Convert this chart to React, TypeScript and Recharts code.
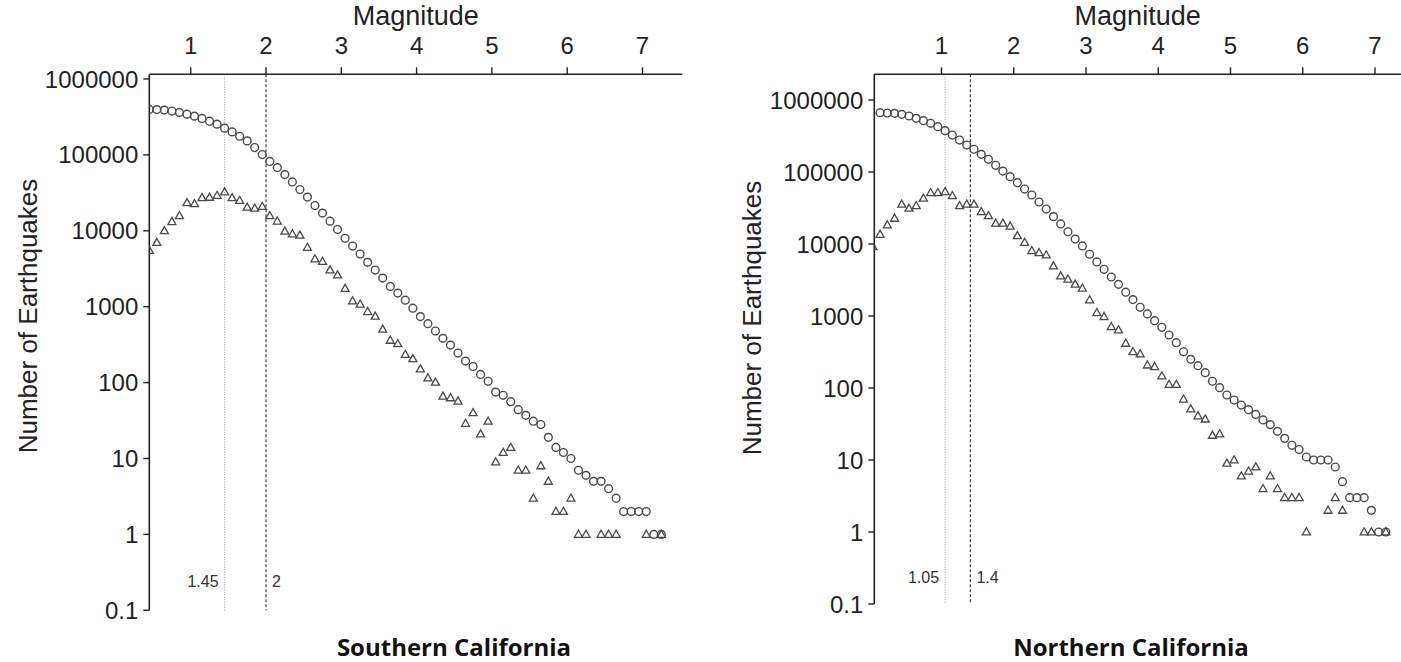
import React from "react";
import { ScatterChart, Scatter, XAxis, YAxis, ReferenceLine } from "recharts";

// magnitude bins (0.1 wide, plotted at bin centre)
const southMag = [
  0.45, 0.55, 0.65, 0.75, 0.85, 0.95, 1.05, 1.15, 1.25, 1.35,
  1.45, 1.55, 1.65, 1.75, 1.85, 1.95, 2.05, 2.15, 2.25, 2.35,
  2.45, 2.55, 2.65, 2.75, 2.85, 2.95, 3.05, 3.15, 3.25, 3.35,
  3.45, 3.55, 3.65, 3.75, 3.85, 3.95, 4.05, 4.15, 4.25, 4.35,
  4.45, 4.55, 4.65, 4.75, 4.85, 4.95, 5.05, 5.15, 5.25, 5.35,
  5.45, 5.55, 5.65, 5.75, 5.85, 5.95, 6.05, 6.15, 6.25, 6.35,
  6.45, 6.55, 6.65, 6.75, 6.85, 6.95, 7.05, 7.15, 7.25,
];
const southCumulative = [
  397000, 395000, 389000, 378000, 363000, 344000, 324000, 302000, 278000, 254000,
  225000, 201000, 176000, 153000, 125000, 101000, 82000, 68000, 55000, 44000,
  35000, 27800, 21500, 17100, 13400, 10400, 7960, 6300, 4940, 3840,
  3040, 2380, 1850, 1510, 1220, 955, 740, 597, 478, 383,
  312, 245, 192, 163, 128, 104, 75, 68, 56, 44,
  37, 31, 28, 19, 14, 12, 10, 7, 6, 5,
  5, 4, 3, 2, 2, 2, 2, 1, 1,
];
const southIncremental = [
  5500, 7000, 10000, 13200, 15800, 23400, 22700, 27200, 27600, 29200,
  32400, 27200, 25100, 20400, 19800, 20900, 15800, 13400, 9850, 9100,
  8720, 6030, 4250, 3940, 3040, 2610, 1740, 1190, 1080, 861,
  748, 504, 360, 325, 235, 206, 151, 115, 101, 66,
  63, 57, 29, 40, 21, 31, 9, 12, 14, 7,
  7, 3, 8, 5, 2, 2, 3, 1, 1, null,
  1, 1, 1, null, null, null, 1, null, 1,
];

const northMag = [
  0.05, 0.15, 0.25, 0.35, 0.45, 0.55, 0.65, 0.75, 0.85, 0.95,
  1.05, 1.15, 1.25, 1.35, 1.45, 1.55, 1.65, 1.75, 1.85, 1.95,
  2.05, 2.15, 2.25, 2.35, 2.45, 2.55, 2.65, 2.75, 2.85, 2.95,
  3.05, 3.15, 3.25, 3.35, 3.45, 3.55, 3.65, 3.75, 3.85, 3.95,
  4.05, 4.15, 4.25, 4.35, 4.45, 4.55, 4.65, 4.75, 4.85, 4.95,
  5.05, 5.15, 5.25, 5.35, 5.45, 5.55, 5.65, 5.75, 5.85, 5.95,
  6.05, 6.15, 6.25, 6.35, 6.45, 6.55, 6.65, 6.75, 6.85, 6.95,
  7.05, 7.15,
];
const northCumulative = [
  null, 667000, 660000, 653000, 632000, 600000, 556000, 516000, 475000, 426000,
  375000, 326000, 278000, 237000, 207000, 176000, 150000, 124000, 103000, 86000,
  71000, 58000, 47900, 38300, 30600, 24000, 19000, 14800, 11700, 9400,
  7200, 5630, 4450, 3480, 2750, 2140, 1690, 1320, 1070, 861,
  697, 545, 426, 319, 250, 204, 163, 124, 101, 80,
  68, 58, 50, 43, 36, 31, 25, 20, 16, 14,
  11, 10, 10, 10, 8, 5, 3, 3, 3, 2,
  1, 1,
];
const northIncremental = [
  9200, 13600, 18400, 22700, 35600, 31300, 34000, 43100, 51600, 51600,
  53300, 46900, 34000, 35600, 35600, 28100, 24700, 19400, 19400, 17600,
  13000, 10500, 8070, 7580, 7040, 4940, 3590, 3240, 2760, 2430,
  1670, 1110, 980, 710, 640, 417, 319, 297, 208, 198,
  147, 112, 112, 70, 51, 41, 37, 22, 23, 9,
  10, 6, 7, 8, 4, 6, 4, 3, 3, 3,
  1, null, null, 2, 3, 2, null, null, 1, 1,
  null, 1,
];

const magTicks = [1, 2, 3, 4, 5, 6, 7];
const countTicks = [0.1, 1, 10, 100, 1000, 10000, 100000, 1000000];

const toPoints = (mags: number[], counts: (number | null)[]) =>
  mags.map((m, i) => ({ m, n: counts[i] })).filter((d) => d.n != null);

const INK = "#222";
const MARK = "#4a4a4a";

const Ring = (p: any) =>
  p.cx == null ? null : (
    <circle cx={p.cx} cy={p.cy} r={3.9} fill="none" stroke={MARK} strokeWidth={1.4} />
  );

const Tri = (p: any) => {
  if (p.cx == null) return null;
  const { cx, cy } = p;
  return (
    <path
      d={`M${cx},${cy - 4.2} L${cx + 4},${cy + 2.9} L${cx - 4},${cy + 2.9} Z`}
      fill="none"
      stroke={MARK}
      strokeWidth={1.3}
    />
  );
};

const refLabel = (text: string, side: "left" | "right", lift: number) => (props: any) => {
  const vb = props.viewBox || {};
  const x = side === "left" ? vb.x - 6 : vb.x + 6;
  const y = vb.y + vb.height - lift;
  return (
    <text
      x={x}
      y={y}
      textAnchor={side === "left" ? "end" : "start"}
      fontSize={16}
      fill="#333"
      fontFamily="Liberation Sans, Arial, sans-serif"
    >
      {text}
    </text>
  );
};

type PanelProps = {
  left: number;
  width: number;
  mags: number[];
  cumulative: (number | null)[];
  incremental: (number | null)[];
  xDomain: [number, number];
  yTop: number;
  margin: { top: number; right: number; bottom: number; left: number };
  yAxisWidth: number;
  yLabelX: number;
  yLabelY: number;
  mc: number;
  mcText: string;
  cut: number;
  cutText: string;
  lift: number;
  title: string;
  titleX: number;
};

function Panel(p: PanelProps) {
  const rings = toPoints(p.mags, p.cumulative);
  const tris = toPoints(p.mags, p.incremental);
  const axisText = { fill: INK, fontSize: 24, fontFamily: "Liberation Sans, Arial, sans-serif" };
  return (
    <>
      <div style={{ position: "absolute", left: p.left, top: 0 }}>
        <ScatterChart width={p.width} height={662} margin={p.margin}>
          <XAxis
            type="number"
            dataKey="m"
            orientation="top"
            domain={p.xDomain}
            allowDataOverflow
            ticks={magTicks}
            height={74}
            tickSize={7}
            tickMargin={13}
            tick={axisText}
            axisLine={{ stroke: INK, strokeWidth: 1.6 }}
            tickLine={{ stroke: INK, strokeWidth: 1.4 }}
            label={{
              value: "Magnitude",
              position: "insideTop",
              offset: 6,
              fill: INK,
              fontSize: 27,
              fontFamily: "Liberation Sans, Arial, sans-serif",
            }}
          />
          <YAxis
            type="number"
            dataKey="n"
            scale="log"
            domain={[0.1, p.yTop]}
            allowDataOverflow
            ticks={countTicks}
            width={p.yAxisWidth}
            tickSize={6}
            tickMargin={5}
            tick={axisText}
            axisLine={{ stroke: INK, strokeWidth: 1.6 }}
            tickLine={{ stroke: INK, strokeWidth: 1.4 }}
            label={() => (
              <text
                x={p.yLabelX}
                y={p.yLabelY}
                transform={`rotate(-90 ${p.yLabelX} ${p.yLabelY})`}
                textAnchor="middle"
                dominantBaseline="central"
                fontSize={26}
                fill={INK}
                fontFamily="Liberation Sans, Arial, sans-serif"
              >
                Number of Earthquakes
              </text>
            )}
          />
          <ReferenceLine
            x={p.mc}
            stroke="#9a9a9a"
            strokeWidth={1}
            strokeDasharray="1 1.5"
            label={refLabel(p.mcText, "left", p.lift)}
          />
          <ReferenceLine
            x={p.cut}
            stroke="#444"
            strokeWidth={1.2}
            strokeDasharray="3 2"
            label={refLabel(p.cutText, "right", p.lift)}
          />
          <Scatter data={rings} shape={Ring} isAnimationActive={false} />
          <Scatter data={tris} shape={Tri} isAnimationActive={false} />
        </ScatterChart>
      </div>
      <div
        style={{
          position: "absolute",
          left: p.titleX - 200,
          width: 400,
          top: 634,
          lineHeight: "26px",
          textAlign: "center",
          fontFamily: "Open Sans, sans-serif",
          fontWeight: 700,
          fontSize: 24,
          color: "#111",
        }}
      >
        {p.title}
      </div>
    </>
  );
}

export default function App() {
  return (
    <div
      style={{
        position: "absolute",
        left: 0,
        top: 0,
        width: 1401,
        height: 662,
        overflow: "hidden",
        background: "#fff",
        fontFamily: "Liberation Sans, Arial, sans-serif",
      }}
    >
      <Panel
        left={0}
        width={700}
        mags={southMag}
        cumulative={southCumulative}
        incremental={southIncremental}
        xDomain={[0.45, 7.53]}
        yTop={1153000}
        margin={{ top: 0.3, right: 17.6, bottom: 51.7, left: 49.3 }}
        yAxisWidth={100}
        yLabelX={28}
        yLabelY={316}
        mc={1.45}
        mcText="1.45"
        cut={2}
        cutText="2"
        lift={23}
        title="Southern California"
        titleX={454}
      />
      <Panel
        left={700}
        width={701}
        mags={northMag}
        cumulative={northCumulative}
        incremental={northIncremental}
        xDomain={[0.07, 7.36]}
        yTop={2275000}
        margin={{ top: 0.3, right: 0, bottom: 58, left: 54.3 }}
        yAxisWidth={120}
        yLabelX={52}
        yLabelY={318}
        mc={1.05}
        mcText="1.05"
        cut={1.4}
        cutText="1.4"
        lift={21}
        title="Northern California"
        titleX={1131}
      />
    </div>
  );
}
